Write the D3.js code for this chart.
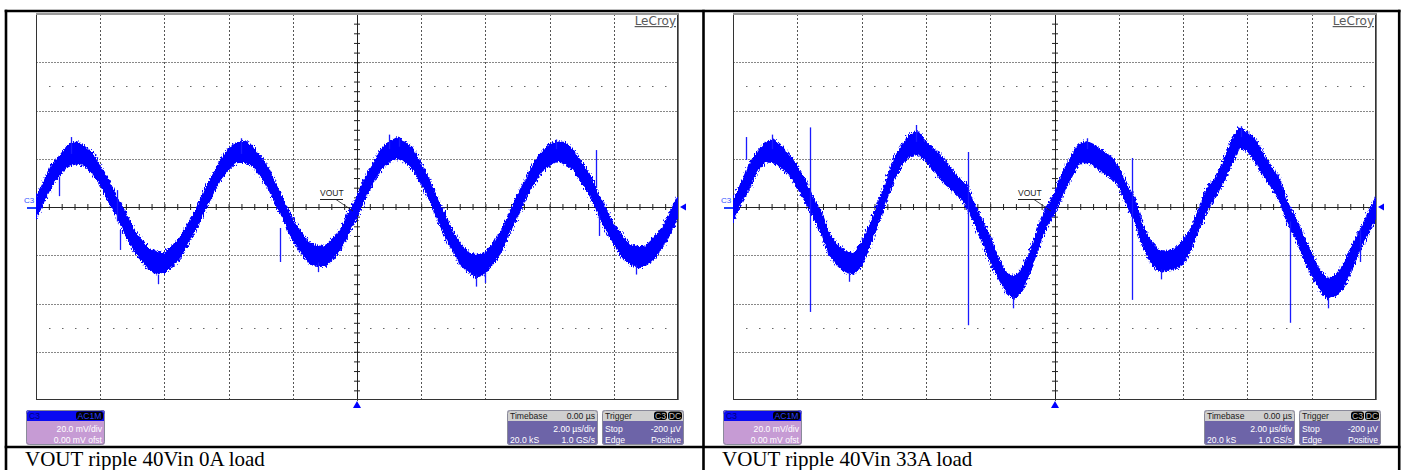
<!DOCTYPE html>
<html>
<head>
<meta charset="utf-8">
<script src="https://cdn.jsdelivr.net/npm/d3@7"></script>
<style>
  html, body { margin: 0; padding: 0; background: #ffffff; }
  svg { display: block; }
</style>
</head>
<body>
<svg id="chart" width="1405" height="470"></svg>
<script>
// ---- Acquisition: 2.00 us/div, 20.0 mV/div, envelope sampled every 0.25 us from -10 us to +10 us ----
const sampleStartUs = -10;
const sampleStepUs = 0.25;

// 0 A load: upper / lower edge of the VOUT trace band (mV)
const upperNoLoad = [3, 10.3, 17.3, 21.2, 25.4, 27, 25, 22.5, 16.8, 11.3, 4, -1.7, -8.8, -13.4, -17.4, -18.6, -19.4, -16.2, -12.8, -6.9,
  -1.1, 6.8, 12.7, 19.3, 24.2, 26.3, 27.2, 24.8, 20.4, 15.7, 8.1, 1.5, -5.5, -10.6, -15, -16.4, -16.5, -13.3, -9.3, -2.3,
  4, 11.9, 17.6, 23.9, 26.8, 28.5, 26.9, 23.7, 17.4, 11.1, 3.3, -3.7, -10.9, -15.7, -19.4, -20, -19.2, -15.1, -10.2, -2.8,
  4.7, 10.9, 18, 22.3, 26, 26.8, 26.5, 23.1, 18.1, 13.2, 5.4, -0.8, -7.5, -12, -15.8, -16.7, -16.4, -13.1, -9, -2.6, 4];
const lowerNoLoad = [-4.5, 2.8, 9.3, 13.7, 17.4, 18, 17.5, 14, 9.8, 2.8, -3, -10.2, -16.8, -21.4, -25.4, -27.6, -26.9, -24.2, -20.8, -14.4,
  -8.6, -1.2, 5.2, 11.8, 15.7, 18.8, 18.7, 17.3, 12.9, 7.7, 0.6, -6, -13.5, -18.6, -23, -24.4, -24.5, -21.3, -17.3, -10.3,
  -4, 3.9, 10.1, 15.9, 18.8, 20.5, 18.9, 15.7, 9.9, 3.6, -4.2, -12.2, -18.4, -24.2, -26.9, -29, -27.2, -23.1, -18.2, -10.3,
  -3.8, 3.9, 9.5, 14.8, 17.5, 19.3, 18, 15.6, 10.6, 5.2, -2.1, -9.3, -15, -20.5, -23.3, -25.2, -23.9, -21.6, -16.5, -11.1, -4];

// 33 A load: upper / lower edge of the VOUT trace band (mV)
const upperFullLoad = [2, 9.5, 17, 22.5, 26.5, 28, 25, 21.5, 16.5, 10.5, 3.5, -2.5, -11.5, -16, -18.5, -19.7, -15.1, -7.7, 0.7, 9.7,
  19.5, 25.3, 29.8, 31, 26.5, 23.8, 20.5, 16, 12, 9.3, 1, -6, -12.8, -21.5, -27.5, -29, -25.5, -18.5, -8.5, -0.5,
  5, 14, 20, 26, 27, 25.5, 23, 21, 16, 9, 3, -8.5, -14.5, -18, -18.5, -17.5, -14, -9.5, -1, 8,
  11.5, 18.5, 27, 32.8, 30.5, 28, 21.5, 16.5, 11.5, 1.5, -5, -12.5, -19.5, -26.5, -29.9, -28.5, -24, -16.5, -10.2, -3, 4];
const lowerFullLoad = [-5.5, 2, 8, 15, 19, 18.5, 16.5, 13.5, 8.5, 2.5, -3.5, -11, -19.5, -24, -27, -27.7, -24.1, -16.2, -6.8, 2.2,
  11.5, 17.8, 21.3, 22, 19.5, 15.3, 11, 8, 5, 0.8, -6, -14, -22.3, -29, -35, -38, -34.5, -26, -16.5, -8,
  -2.5, 5, 12, 18, 19, 17, 14.5, 12.5, 9, 1, -5.5, -16, -23, -26.5, -26, -25.5, -23.5, -17, -8.5, -1,
  4.5, 10.5, 18, 24.8, 23.5, 19, 13, 8.5, 3, -6, -12.5, -21, -28, -34, -37.9, -36.5, -33, -25.5, -17.2, -11, -4];

// Glitches and edge fuzz on each trace: [time us, top mV, bottom mV]
const spikesNoLoad = [[-9.28, 12.5, 4.5], [-7.48, 7, -6], [-7.38, -9.5, -17.8], [-2.4, -8.7, -22.8], [7.45, 23.6, 7.9], [7.55, -3, -12],
  [-8.9, 29, 22], [-3.6, 28.5, 22], [1.0, 30, 24], [1.3, 29, 25], [6.2, 28, 24], [-6.2, -28, -32], [3.7, -28, -33],
  [4.0, -27, -31.5], [8.7, -24, -28], [-1.2, -23, -27]];
const spikesFullLoad = [[-9.6, 29, 19.5], [-7.62, 33, -43.5], [-2.68, 22.8, -49], [2.4, 20.3, -38.5], [7.33, -6, -48], [9.5, -8.7, -22.8],
  [-8.8, 30, 24], [-4.3, 34, 27], [1.0, 28.5, 24], [5.8, 33.5, 29], [-6.4, -27, -31], [-1.3, -37, -42], [3.3, -26, -30], [8.5, -38, -42]];

// Scope readouts and captions
const captions = ["VOUT ripple 40Vin 0A load", "VOUT ripple 40Vin 33A load"];
const channelReadout = ["C3", "AC1M", "20.0 mV/div", "0.00 mV ofst"];
const timebaseReadout = ["Timebase", "0.00 \u00b5s", "2.00 \u00b5s/div", "20.0 kS", "1.0 GS/s"];
const triggerReadout = ["Trigger", "C3", "DC", "Stop", "-200 \u00b5V", "Edge", "Positive"];
const traceLabel = "VOUT";
const brandLabel = "LeCroy";

// ---- Layout ----
const svg = d3.select("#chart");
const plotTop = 14, plotBottom = 400;
const panels = [
  { left: 36, right: 678, upper: upperNoLoad, lower: lowerNoLoad, spikes: spikesNoLoad, caption: captions[0] },
  { left: 733, right: 1376, upper: upperFullLoad, lower: lowerFullLoad, spikes: spikesFullLoad, caption: captions[1] }
];
const BLUE = "#0000ff";
const sans = "'Liberation Sans', Arial, sans-serif";

// ragged edge texture for the persistence-style trace band
const defs = svg.append("defs");
const fuzz = defs.append("filter").attr("id", "traceFuzz")
  .attr("x", "-2%").attr("y", "-10%").attr("width", "104%").attr("height", "120%");
fuzz.append("feTurbulence").attr("type", "fractalNoise").attr("baseFrequency", "0.9 0.35")
  .attr("numOctaves", 2).attr("seed", 7).attr("result", "grain");
fuzz.append("feDisplacementMap").attr("in", "SourceGraphic").attr("in2", "grain")
  .attr("scale", 7).attr("xChannelSelector", "R").attr("yChannelSelector", "G");

function drawPanel(p, idx) {
  const g = svg.append("g");
  const x = d3.scaleLinear().domain([-10, 10]).range([p.left, p.right]);
  const y = d3.scaleLinear().domain([-80, 80]).range([plotBottom, plotTop]);
  const cx = Math.round(x(0)), cy = Math.round(y(0));
  const snap = v => Math.round(v) + 0.5;

  const clipId = "clip" + idx;
  g.append("clipPath").attr("id", clipId)
    .append("rect").attr("x", p.left).attr("y", plotTop).attr("width", p.right - p.left).attr("height", plotBottom - plotTop);

  // grid divisions
  const vDivs = d3.range(-8, 8.01, 2).filter(v => Math.abs(v) > 1e-6);
  const hDivs = d3.range(-60, 60.01, 20).filter(v => Math.abs(v) > 1e-6);
  g.append("g").selectAll("line").data(vDivs).join("line")
    .attr("x1", d => snap(x(d))).attr("x2", d => snap(x(d)))
    .attr("y1", plotTop).attr("y2", plotBottom)
    .attr("stroke", "#555").attr("stroke-width", 1).attr("stroke-dasharray", "2,2");
  g.append("g").selectAll("line").data(hDivs).join("line")
    .attr("x1", p.left).attr("x2", p.right)
    .attr("y1", d => snap(y(d))).attr("y2", d => snap(y(d)))
    .attr("stroke", "#888").attr("stroke-width", 1).attr("stroke-dasharray", "2,1");

  // sparse sub-division dots at +/-50 mV
  const subTicks = d3.range(-9.6, 9.61, 0.4).filter(v => Math.abs(v / 2 - Math.round(v / 2)) > 0.01);
  [50, -50].forEach(mv => {
    g.append("g").selectAll("rect").data(subTicks).join("rect")
      .attr("x", d => Math.round(x(d))).attr("y", Math.round(y(mv)))
      .attr("width", 1.5).attr("height", 1).attr("fill", "#666");
  });

  // centre axes with minor ticks
  const hTicks = d3.range(-9.6, 9.61, 0.4);
  const vTicks = d3.range(-76, 76.1, 4);
  [d3.axisTop(x), d3.axisBottom(x)].forEach(ax => {
    g.append("g").attr("transform", `translate(0,${cy})`).style("color", "#222")
      .call(ax.tickValues(hTicks).tickSize(3).tickSizeOuter(0).tickFormat(""));
  });
  [d3.axisLeft(y), d3.axisRight(y)].forEach(ax => {
    g.append("g").attr("transform", `translate(${cx},0)`).style("color", "#222")
      .call(ax.tickValues(vTicks).tickSize(3).tickSizeOuter(0).tickFormat(""));
  });

  // plot frame
  g.append("rect").attr("x", p.left + 0.5).attr("y", plotTop + 0.5)
    .attr("width", p.right - p.left - 1).attr("height", plotBottom - plotTop - 1)
    .attr("fill", "none").attr("stroke", "#333");
  g.append("line").attr("x1", p.left).attr("x2", p.right + 1).attr("y1", plotTop).attr("y2", plotTop)
    .attr("stroke", "#9a9a9a").attr("stroke-width", 2);
  g.append("line").attr("x1", p.right + 0.5).attr("x2", p.right + 0.5).attr("y1", plotTop).attr("y2", plotBottom)
    .attr("stroke", "#777");

  // trace band: solid core plus a ragged persistence edge
  const band = d3.area()
    .x((d, i) => x(sampleStartUs + i * sampleStepUs))
    .y0((d, i) => y(p.lower[i]))
    .y1(d => y(d));
  const tg = g.append("g").attr("clip-path", `url(#${clipId})`);
  tg.append("path").datum(p.upper).attr("d", band).attr("fill", BLUE);
  tg.append("g").attr("filter", "url(#traceFuzz)")
    .append("path").datum(p.upper).attr("d", band)
    .attr("fill", BLUE).attr("stroke", BLUE).attr("stroke-width", 2).attr("stroke-linejoin", "round");
  tg.append("g").selectAll("line").data(p.spikes).join("line")
    .attr("x1", d => snap(x(d[0]))).attr("x2", d => snap(x(d[0])))
    .attr("y1", d => y(d[1])).attr("y2", d => y(d[2]))
    .attr("stroke", "#1a1aff").attr("stroke-width", 1.3);

  // channel marker on the left, level marker on the right, trigger marker at bottom
  g.append("text").attr("x", p.left - 12).attr("y", cy - 4).text(channelReadout[0])
    .attr("font-family", sans).attr("font-size", 8).attr("fill", "#3050ff");
  g.append("line").attr("x1", p.left - 9).attr("x2", p.left).attr("y1", cy + 1).attr("y2", cy + 1)
    .attr("stroke", "#2040ff").attr("stroke-width", 2);
  g.append("path").attr("d", `M${p.right + 2},${cy}L${p.right + 8},${cy - 3.5}L${p.right + 8},${cy + 3.5}Z`).attr("fill", BLUE);
  g.append("path").attr("d", `M${cx},${plotBottom + 1}L${cx - 4},${plotBottom + 8}L${cx + 4},${plotBottom + 8}Z`).attr("fill", BLUE);

  // trace label with leader
  g.append("text").attr("x", cx - 37).attr("y", cy - 11).text(traceLabel)
    .attr("font-family", sans).attr("font-size", 8.5).attr("fill", "#222");
  g.append("line").attr("x1", cx - 37).attr("x2", cx - 14).attr("y1", cy - 7.5).attr("y2", cy - 7.5)
    .attr("stroke", "#222").attr("stroke-width", 1);
  g.append("line").attr("x1", cx - 21).attr("x2", cx - 4).attr("y1", cy - 7.5).attr("y2", cy + 4)
    .attr("stroke", "#222").attr("stroke-width", 0.8);

  // brand mark
  g.append("text").attr("x", p.right - 2).attr("y", 25).attr("text-anchor", "end").text(brandLabel)
    .attr("font-family", "'DejaVu Sans', sans-serif").attr("font-size", 12).attr("fill", "#5a5a5a")
    .style("text-decoration", "underline");

  // readout boxes
  const boxTop = 410, boxH = 35, headH = 11;
  function box(bx, w, headFill, bodyFill) {
    const b = g.append("g");
    b.append("rect").attr("x", bx).attr("y", boxTop).attr("width", w).attr("height", boxH).attr("rx", 3).attr("fill", bodyFill);
    b.append("rect").attr("x", bx).attr("y", boxTop).attr("width", w).attr("height", headH).attr("rx", 3).attr("fill", headFill);
    b.append("rect").attr("x", bx).attr("y", boxTop + 5).attr("width", w).attr("height", headH - 5).attr("fill", headFill);
    b.append("rect").attr("x", bx + 0.5).attr("y", boxTop + 0.5).attr("width", w - 1).attr("height", boxH - 1).attr("rx", 3)
      .attr("fill", "none").attr("stroke", "#8a8a9a");
    return b;
  }
  function txt(b, tx, ty, s, fill, anchor) {
    b.append("text").attr("x", tx).attr("y", ty).text(s).attr("text-anchor", anchor || "start")
      .attr("font-family", sans).attr("font-size", 8.6).attr("fill", fill);
  }
  function badge(b, bx, w, s, fill) {
    b.append("rect").attr("x", bx).attr("y", boxTop + 1.5).attr("width", w).attr("height", 8.5).attr("rx", 3).attr("fill", "#000");
    txt(b, bx + w / 2, boxTop + 9, s, fill, "middle");
  }

  // channel box
  const c1x = p.left - 10, c1w = 79;
  const cb = box(c1x, c1w, "#0a0af2", "#c69bd4");
  txt(cb, c1x + 3, boxTop + 9, channelReadout[0], "#00007a");
  badge(cb, c1x + c1w - 29, 27, channelReadout[1], "#2a3cff");
  txt(cb, c1x + c1w - 3, boxTop + 22, channelReadout[2], "#ffffff", "end");
  txt(cb, c1x + c1w - 3, boxTop + 33, channelReadout[3], "#ffffff", "end");

  // timebase box
  const tbx = p.left + 471, tbw = 91;
  const tb = box(tbx, tbw, "#cfcfcf", "#6d64a8");
  txt(tb, tbx + 3, boxTop + 9, timebaseReadout[0], "#1a1a1a");
  txt(tb, tbx + tbw - 3, boxTop + 9, timebaseReadout[1], "#1a1a1a", "end");
  txt(tb, tbx + tbw - 3, boxTop + 22, timebaseReadout[2], "#ffffff", "end");
  txt(tb, tbx + 3, boxTop + 33, timebaseReadout[3], "#ffffff");
  txt(tb, tbx + tbw - 3, boxTop + 33, timebaseReadout[4], "#ffffff", "end");

  // trigger box
  const trx = p.left + 566, trw = 82;
  const tr = box(trx, trw, "#cfcfcf", "#6d64a8");
  txt(tr, trx + 3, boxTop + 9, triggerReadout[0], "#1a1a1a");
  badge(tr, trx + trw - 30, 13, triggerReadout[1], "#bfbfbf");
  badge(tr, trx + trw - 16, 14, triggerReadout[2], "#bfbfbf");
  txt(tr, trx + 3, boxTop + 22, triggerReadout[3], "#ffffff");
  txt(tr, trx + trw - 3, boxTop + 22, triggerReadout[4], "#ffffff", "end");
  txt(tr, trx + 3, boxTop + 33, triggerReadout[5], "#ffffff");
  txt(tr, trx + trw - 3, boxTop + 33, triggerReadout[6], "#ffffff", "end");

  // caption below the screen capture
  svg.append("text").attr("x", p.left - 11).attr("y", 466).text(p.caption)
    .attr("font-family", "'Liberation Serif', 'Times New Roman', serif").attr("font-size", 21).attr("fill", "#000");
}

panels.forEach(drawPanel);

// table frame around the two captures
const frame = svg.append("g").attr("stroke", "#000").attr("stroke-width", 2.6);
frame.append("line").attr("x1", 4.7).attr("x2", 1400.5).attr("y1", 11).attr("y2", 11);
frame.append("line").attr("x1", 6).attr("x2", 6).attr("y1", 9.7).attr("y2", 470);
frame.append("line").attr("x1", 1399.2).attr("x2", 1399.2).attr("y1", 9.7).attr("y2", 470);
frame.append("line").attr("x1", 703.5).attr("x2", 703.5).attr("y1", 9.7).attr("y2", 470);
frame.append("line").attr("x1", 4.7).attr("x2", 1400.5).attr("y1", 447).attr("y2", 447);
</script>
</body>
</html>
